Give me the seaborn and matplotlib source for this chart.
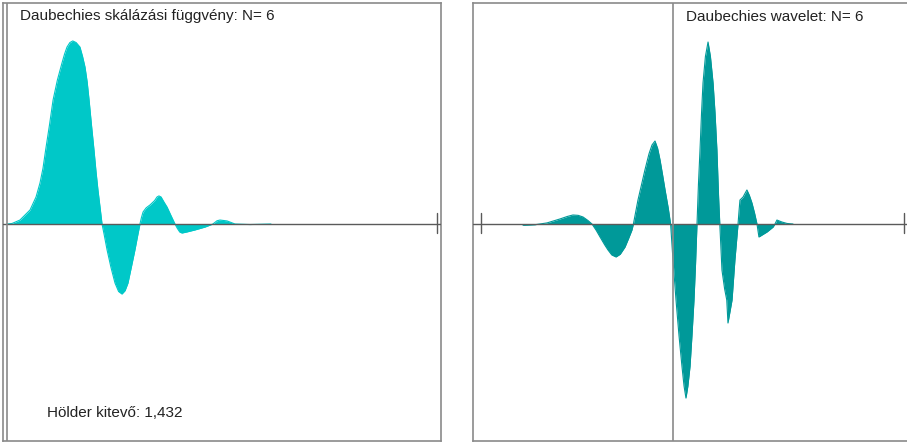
import matplotlib
matplotlib.use("Agg")
import matplotlib.pyplot as plt
import pandas as pd
import seaborn as sns

# Daubechies N=6 scaling function
phi_x = [0.00, 0.21, 0.54, 0.96, 1.21, 1.375, 1.50, 1.61, 1.77, 1.92, 2.10, 2.29, 2.40, 2.50,
         2.62, 2.74, 2.88, 3.04, 3.15, 3.25, 3.34, 3.42, 3.52, 3.625, 3.71, 3.79, 3.88, 3.96,
         4.05, 4.17, 4.33, 4.50, 4.65, 4.79, 4.92, 5.04, 5.18, 5.33, 5.45, 5.54,
         5.60, 5.67, 5.80, 5.96, 6.15, 6.25, 6.33, 6.42, 6.55, 6.67, 6.84, 7.00,
         7.10, 7.20, 7.29, 7.40, 7.50, 7.83, 8.25, 8.58, 8.75, 8.875, 9.17, 9.50, 10.125, 11.0]
phi_y = [0.0, 0.003, 0.022, 0.078, 0.15, 0.228, 0.31, 0.411, 0.55, 0.689, 0.80, 0.894, 0.945, 0.983,
         1.008, 1.017, 1.008, 0.983, 0.93, 0.872, 0.79, 0.689, 0.55, 0.411, 0.29, 0.189, 0.09, 0.0,
         -0.06, -0.144, -0.24, -0.328, -0.375, -0.389, -0.37, -0.328, -0.24, -0.144, -0.06, 0.0,
         0.035, 0.067, 0.09, 0.106, 0.13, 0.15, 0.156, 0.15, 0.12, 0.094, 0.045, 0.0,
         -0.025, -0.045, -0.05, -0.047, -0.044, -0.033, -0.017, 0.0, 0.018, 0.022, 0.017, 0.0,
         -0.003, 0.0]

# Daubechies N=6 wavelet
psi_x = [-6.25, -5.75, -5.25, -4.71, -4.40, -4.17, -3.95, -3.75, -3.55, -3.375, -3.20, -3.04,
         -2.85, -2.71, -2.55, -2.375, -2.20, -2.00, -1.85, -1.71, -1.65, -1.55, -1.46, -1.30,
         -1.17, -1.00, -0.875, -0.75, -0.64, -0.54, -0.43, -0.33, -0.20, -0.10,
         0.00, 0.125, 0.25, 0.375, 0.46, 0.54, 0.62, 0.71, 0.79, 0.875, 0.94, 1.00,
         1.06, 1.125, 1.19, 1.25, 1.35, 1.46, 1.56, 1.67, 1.75, 1.83, 1.90, 1.95,
         2.04, 2.15, 2.24, 2.29, 2.33, 2.46, 2.58, 2.71,
         2.75, 2.79, 2.92, 3.00, 3.08, 3.18, 3.29, 3.40, 3.50,
         3.58, 3.92, 4.17, 4.25, 4.33, 4.54, 4.75, 5.0]
psi_y = [-0.007, -0.004, 0.006, 0.028, 0.042, 0.05, 0.048, 0.039, 0.02, 0.0, -0.035, -0.072,
         -0.115, -0.144, -0.172, -0.183, -0.168, -0.128, -0.08, -0.033, 0.0, 0.07, 0.133, 0.225,
         0.30, 0.39, 0.439, 0.461, 0.42, 0.356, 0.27, 0.189, 0.09, 0.0,
         -0.20, -0.422, -0.62, -0.793, -0.90, -0.967, -0.90, -0.79, -0.62, -0.422, -0.22, 0.0,
         0.22, 0.411, 0.62, 0.783, 0.93, 1.011, 0.93, 0.783, 0.62, 0.411, 0.15, 0.0,
         -0.256, -0.36, -0.422, -0.55, -0.52, -0.422, -0.2, 0.0,
         0.07, 0.133, 0.15, 0.17, 0.189, 0.16, 0.117, 0.06, 0.0,
         -0.072, -0.044, -0.017, 0.0, 0.022, 0.011, 0.003, 0.0]

titles = ["Daubechies skálázási függvény: N= 6", "Daubechies wavelet: N= 6"]
holder_text = "Hölder kitevő: 1,432"
end_ticks = [[17.92], [-8.0, 9.625]]

sns.set_style("white")
plt.rcParams["font.family"] = ["Liberation Sans", "DejaVu Sans"]

W, H = 907, 443
fig = plt.figure(figsize=(W / 100, H / 100), dpi=100)

frame_col = "#8a8a8a"
axis_col = "#5a5a5a"

ax1 = fig.add_axes([3 / W, 2 / H, 438 / W, 438 / H])
ax2 = fig.add_axes([473 / W, 2 / H, 435 / W, 438 / H])

panels = [
    (ax1, phi_x, phi_y, "#00c8c8", (-4 / 24, 434 / 24)),
    (ax2, psi_x, psi_y, "#009999", (-200 / 24, 235 / 24)),
]

for i, (ax, xs, ys, col, xlim) in enumerate(panels):
    df = pd.DataFrame({"x": xs, "y": ys})
    ax.fill_between(df["x"], 0, df["y"], color=col, linewidth=0)
    sns.lineplot(data=df, x="x", y="y", ax=ax, color=col, linewidth=0.8, sort=False)
    ax.set_xlim(*xlim)
    ax.set_ylim(-217 / 180, 221 / 180)
    ax.axhline(0, color=axis_col, linewidth=1, zorder=3)
    ax.axvline(0, color=frame_col, linewidth=1.2, zorder=3)
    for t in end_ticks[i]:
        ax.axvline(t, ymin=0.475, ymax=0.521, color=axis_col, linewidth=1, zorder=3)
    ax.set_xticks([])
    ax.set_yticks([])
    ax.set_xlabel("")
    ax.set_ylabel("")
    for s in ax.spines.values():
        s.set_color(frame_col)
        s.set_linewidth(1.2)

fig.text(20 / W, 1 - 16 / H, titles[0], fontsize=11, va="center", ha="left", color="#222222")
fig.text(686 / W, 1 - 17 / H, titles[1], fontsize=11, va="center", ha="left", color="#222222")
fig.text(47 / W, 1 - 413 / H, holder_text, fontsize=11, va="center", ha="left", color="#222222")

fig.savefig("out.png", dpi=100)
